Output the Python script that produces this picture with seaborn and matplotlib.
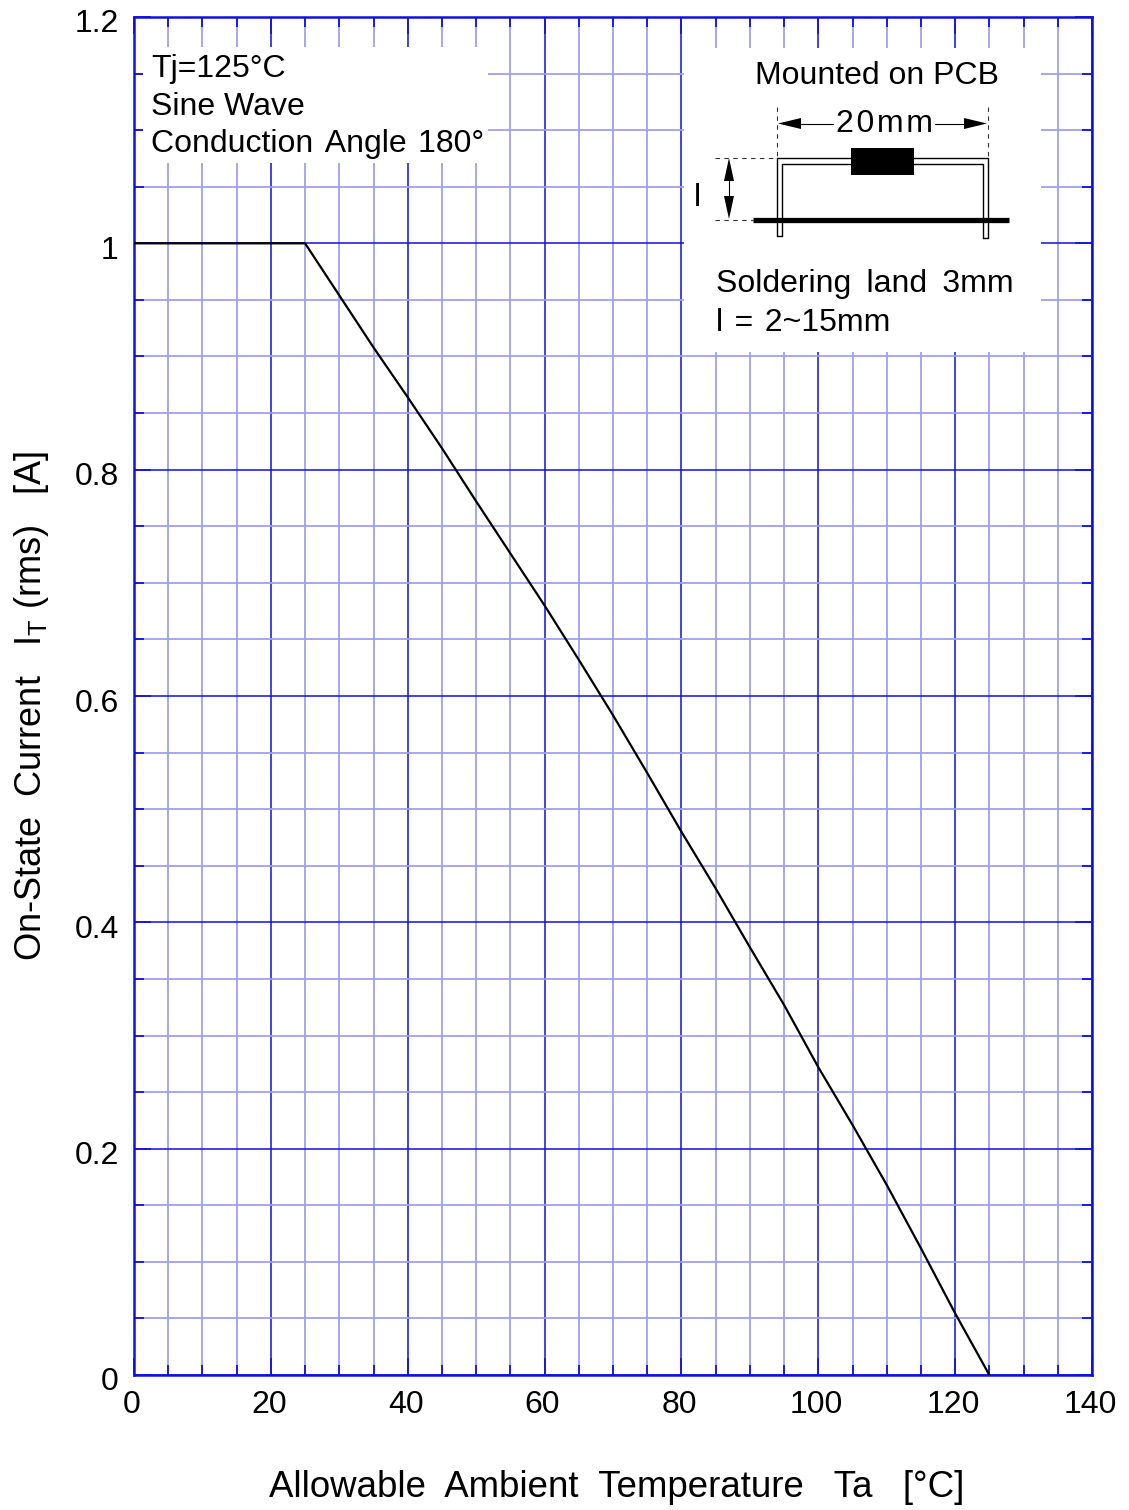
import matplotlib
matplotlib.use("Agg")
import matplotlib.pyplot as plt
from matplotlib.patches import Rectangle, Polygon
from matplotlib.ticker import MultipleLocator
from matplotlib.transforms import ScaledTranslation
import pandas as pd
import seaborn as sns

# derating curve
temp_ta = [0, 25, 30, 35, 40, 45, 50, 55, 60, 65, 70, 75, 80, 85, 90, 95, 100, 105, 110, 115, 120, 125]
current_it = [1, 1, 0.954, 0.908, 0.864, 0.819, 0.772, 0.726, 0.680, 0.632, 0.583, 0.532,
              0.480, 0.430, 0.378, 0.327, 0.272, 0.221, 0.168, 0.112, 0.0545, 0]

x_major = [0, 20, 40, 60, 80, 100, 120, 140]
y_major = [0, 0.2, 0.4, 0.6, 0.8, 1, 1.2]
y_labels = ['0', '0.2', '0.4', '0.6', '0.8', '1', '1.2']

BLUE = '#1010e0'
LIGHT = '#a0a0f0'
W, H = 1129, 1510

sns.set_theme(style='ticks')
plt.rcParams['font.family'] = ['Liberation Sans', 'DejaVu Sans']
plt.rcParams['mathtext.default'] = 'regular'
plt.rcParams['text.color'] = 'black'
plt.rcParams['axes.labelcolor'] = 'black'
FS = 23

fig = plt.figure(figsize=(W / 100, H / 100), dpi=100)
ax = fig.add_axes([134 / W, 1 - 1375 / H, (1092 - 134) / W, (1375 - 17) / H])

df = pd.DataFrame({'Ta': temp_ta, 'It': current_it})
sns.lineplot(data=df, x='Ta', y='It', color='black', linewidth=1.6, ax=ax, zorder=5)

ax.set_xlim(0, 140)
ax.set_ylim(0, 1.2)
ax.set_xticks(x_major)
ax.set_xticklabels([str(v) for v in x_major])
ax.set_yticks(y_major)
ax.set_yticklabels(y_labels)
ax.xaxis.set_minor_locator(MultipleLocator(5))
ax.yaxis.set_minor_locator(MultipleLocator(0.05))

ax.grid(which='minor', color=LIGHT, linewidth=1.3)
ax.grid(which='major', color=BLUE, linewidth=1.1)
ax.set_axisbelow(True)
ax.tick_params(which='major', direction='in', length=12, width=1.2, color=BLUE,
               top=True, right=True, labelsize=FS, labelcolor='black')
ax.tick_params(which='minor', direction='in', length=7, width=1.3, color=BLUE,
               top=True, right=True)
ax.tick_params(axis='x', which='major', pad=11)
ax.tick_params(axis='y', which='major', pad=11)
for s in ax.spines.values():
    s.set_color(BLUE)
    s.set_linewidth(1.8)

# tick labels sit a bit off the grid lines in the original
for lab in ax.get_xticklabels():
    lab.set_transform(lab.get_transform() + ScaledTranslation(-2 / 100, 0, fig.dpi_scale_trans))
for lab in ax.get_yticklabels():
    lab.set_transform(lab.get_transform() + ScaledTranslation(0, -4 / 100, fig.dpi_scale_trans))

ax.set_xlabel('Allowable  Ambient  Temperature   Ta   [°C]', fontsize=26.4)
ax.xaxis.set_label_coords((617 - 134) / (1092 - 134), -(1470 - 1375) / (1375 - 17))
ax.set_ylabel('On-State  Current   I$_{T}$ (rms)   [A]', fontsize=26)
ax.yaxis.set_label_coords(-(134 - 51) / (1092 - 134), (1375 - 706) / (1375 - 17))

# overlay in pixel coordinates for the notes and the little PCB drawing
ov = fig.add_axes([0, 0, 1, 1], facecolor='none')
ov.set_xlim(0, W)
ov.set_ylim(H, 0)
ov.axis('off')

ov.add_patch(Rectangle((143, 47), 345, 116, fc='white', ec='none'))
ov.add_patch(Rectangle((684, 48), 357, 304, fc='white', ec='none'))

ov.text(151, 77, 'Tj=125°C', fontsize=FS)
ov.text(151, 115, 'Sine Wave', fontsize=FS)
ov.text(151, 152, 'Conduction \u200aAngle \u200a180°', fontsize=FS)
ov.text(877, 84, 'Mounted on PCB', fontsize=FS, ha='center')
ov.text(716, 292, 'Soldering \u2009land \u20093mm', fontsize=FS)
ov.text(716, 331, 'l \u200a= \u200a2~15mm', fontsize=FS)
ov.text(836, 132, '2\u200a0\u200am\u200am', fontsize=FS)
ov.text(697, 206, 'l', fontsize=FS, ha='center')

# dashed guides
for xs, ys in [((777, 777), (107, 158)), ((988, 988), (107, 158)),
               ((715, 777), (158, 158)), ((715, 753), (220, 220))]:
    ov.plot(xs, ys, color='#333333', lw=0.8, ls=(0, (4, 4)))

# leads and body
ov.plot([777, 777, 988, 988], [236, 158, 158, 238], color='black', lw=1)
ov.plot([782, 782, 983, 983], [236, 164, 164, 238], color='black', lw=1)
ov.plot([777, 782], [236, 236], color='black', lw=1)
ov.plot([983, 988], [238, 238], color='black', lw=1)
ov.add_patch(Rectangle((851, 148), 63, 27, fc='black', ec='none'))
ov.plot([753, 1009], [220, 220], color='black', lw=3.8, solid_capstyle='butt')

# dimension arrows
ov.plot([801, 833], [123.5, 123.5], color='black', lw=0.8)
ov.plot([935, 963], [123.5, 123.5], color='black', lw=0.8)
ov.plot([729, 729], [181, 196], color='black', lw=0.8)
ov.add_patch(Polygon([(778, 123.5), (801, 118), (801, 129)], fc='black', ec='none'))
ov.add_patch(Polygon([(987, 123.5), (964, 118), (964, 129)], fc='black', ec='none'))
ov.add_patch(Polygon([(729, 158), (724, 181), (734, 181)], fc='black', ec='none'))
ov.add_patch(Polygon([(729, 219), (724, 196), (734, 196)], fc='black', ec='none'))

fig.savefig('out.png', dpi=100)
